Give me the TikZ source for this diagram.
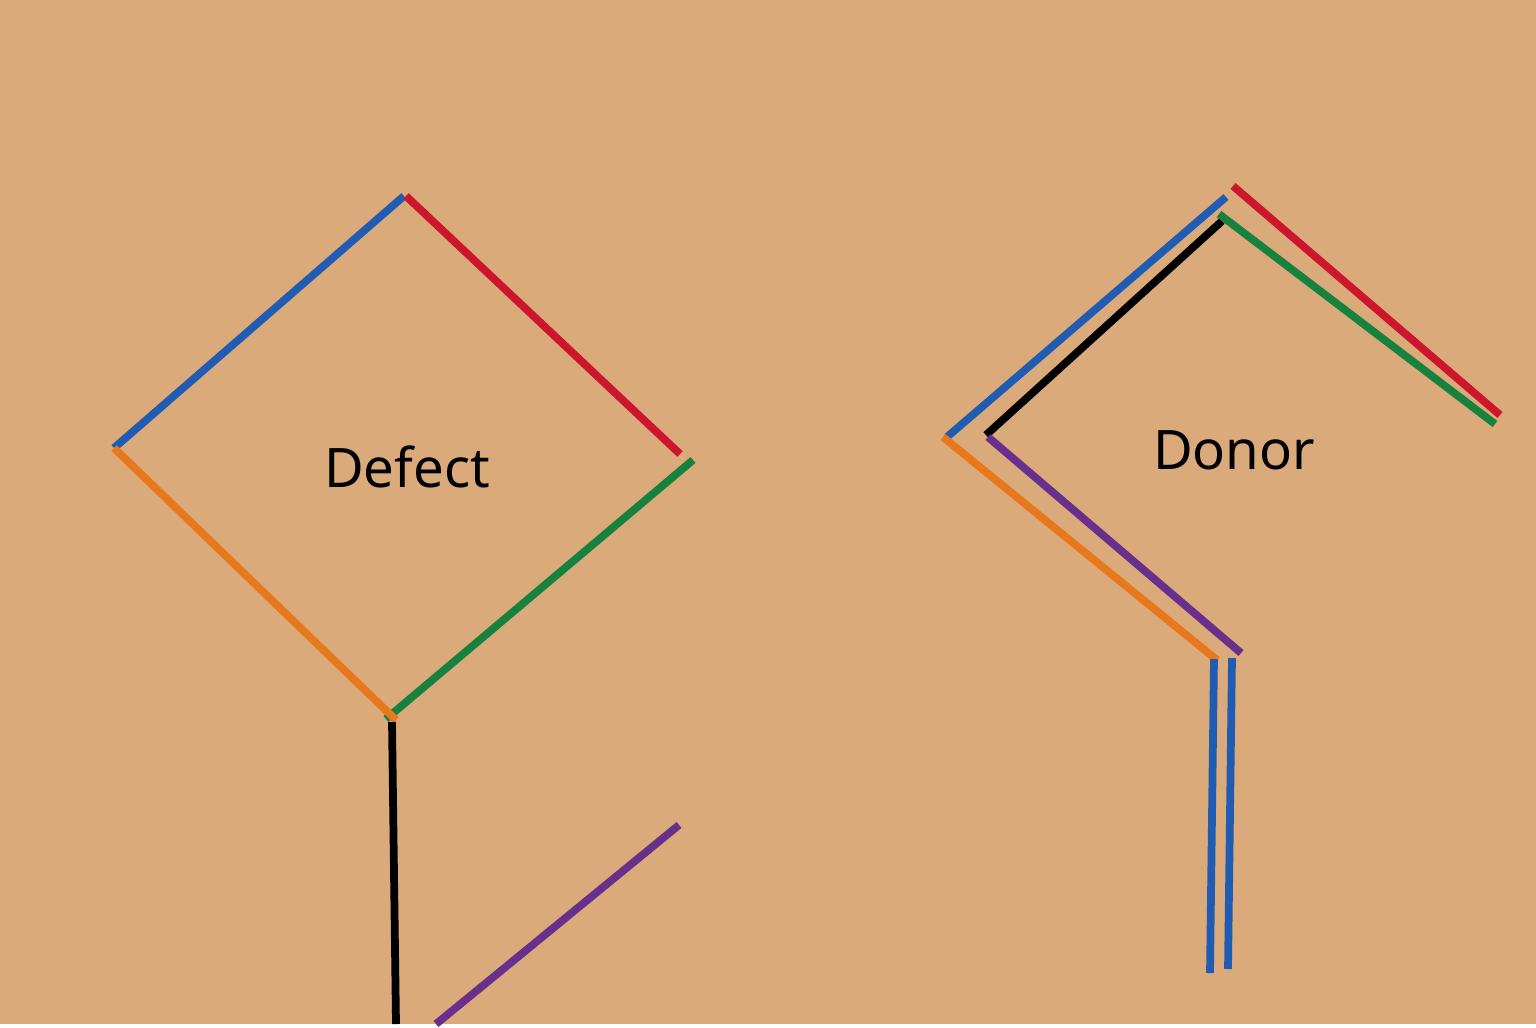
\documentclass[tikz,border=0pt]{standalone}
\usepackage{fontspec}
\setmainfont{Noto Sans}
\definecolor{bgtan}{RGB}{218,170,122}
\definecolor{lblue}{RGB}{32,92,178}
\definecolor{lred}{RGB}{204,22,44}
\definecolor{lorange}{RGB}{232,120,28}
\definecolor{lgreen}{RGB}{22,130,62}
\definecolor{lpurple}{RGB}{104,48,140}
\tikzset{
	seg/.style = {line width=2.2pt},
	lbl/.style = {font=\fontsize{15.5}{18}\selectfont, text=black}
}
\begin{document}
\begin{tikzpicture}[x = .01cm, y = -.01cm]
	\fill[bgtan] (0,0) rectangle (1536,1024);

	% Defect
	\node[lbl] (defect) at (407,467) {Defect};
	\coordinate (DT) at (404,196);
	\coordinate (DTr) at (406,196);
	\coordinate (DL) at (114,448);
	\coordinate (DR) at (680,454);
	\coordinate (DR2) at (693,460);
	\coordinate (DB) at (396,720);
	\coordinate (DB2) at (386,719);
	\coordinate (DS) at (392,722);
	\coordinate (DE) at (396,1024);
	\coordinate (PA) at (436,1024);
	\coordinate (PB) at (679,825);

	\draw[seg, lblue] (DL) -- (DT);
	\draw[seg, lred] (DTr) -- (DR);
	\draw[seg, lgreen] (DB2) -- (DR2);
	\draw[seg, lorange] (DL) -- (DB);
	\draw[seg, black] (DS) -- (DE);
	\draw[seg, lpurple] (PA) -- (PB);

	% Donor
	\node[lbl] (donor) at (1234,450) {Donor};
	\coordinate (BL) at (947,437);
	\coordinate (BT) at (1226,197);
	\coordinate (RT) at (1233,186);
	\coordinate (RR) at (1500,415);
	\coordinate (KL) at (986,435);
	\coordinate (KT) at (1222,221);
	\coordinate (GT) at (1219,214);
	\coordinate (GR) at (1495,424);
	\coordinate (OL) at (943,437);
	\coordinate (OB) at (1217,660);
	\coordinate (UL) at (988,437);
	\coordinate (UB) at (1241,653);
	\coordinate (V1t) at (1214,659);
	\coordinate (V1b) at (1210,973);
	\coordinate (V2t) at (1232,658);
	\coordinate (V2b) at (1228,969);

	\draw[seg, lblue] (BL) -- (BT);
	\draw[seg, lred] (RT) -- (RR);
	\draw[seg, black] (KL) -- (KT);
	\draw[seg, lgreen] (GT) -- (GR);
	\draw[seg, lorange] (OL) -- (OB);
	\draw[seg, lpurple] (UL) -- (UB);
	\draw[seg, lblue] (V1t) -- (V1b);
	\draw[seg, lblue] (V2t) -- (V2b);
\end{tikzpicture}
\end{document}
